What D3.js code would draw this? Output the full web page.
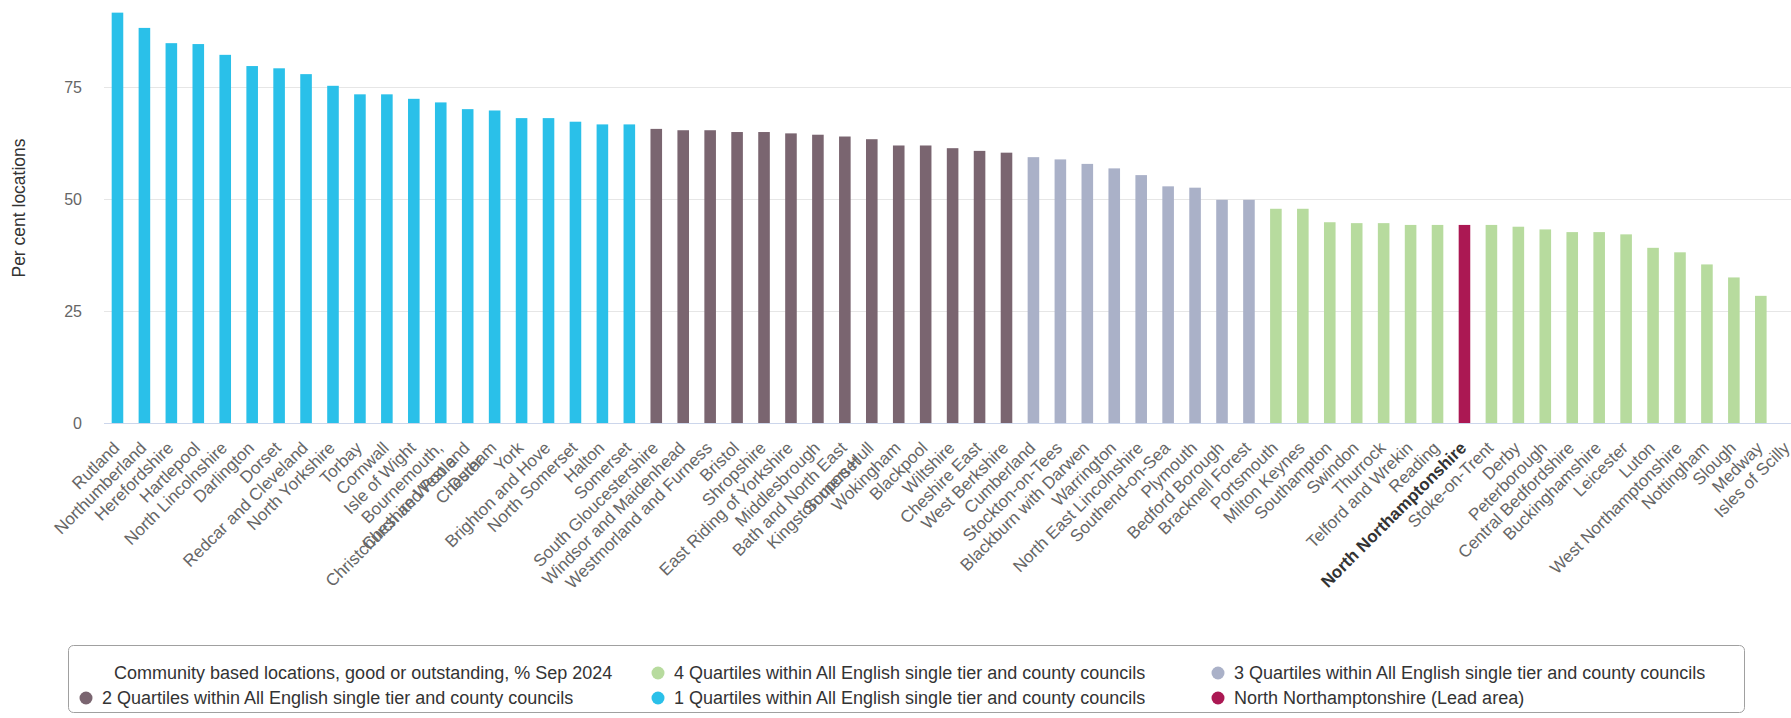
<!DOCTYPE html>
<html><head><meta charset="utf-8">
<script src="https://cdn.jsdelivr.net/npm/d3@7"></script>
<style>
html,body{margin:0;padding:0;background:#fff;overflow:hidden}
svg{display:block;font-family:"Liberation Sans",Arial,Helvetica,sans-serif}
</style></head><body>
<svg id="c" width="1791" height="718"></svg>
<script>
const categories = ["Rutland","Northumberland","Herefordshire","Hartlepool","North Lincolnshire","Darlington","Dorset","Redcar and Cleveland","North Yorkshire","Torbay","Cornwall","Isle of Wight","Bournemouth, Christchurch and Poole","Cheshire West and Chester","Durham","York","Brighton and Hove","North Somerset","Halton","Somerset","South Gloucestershire","Windsor and Maidenhead","Westmorland and Furness","Bristol","Shropshire","East Riding of Yorkshire","Middlesbrough","Bath and North East Somerset","Kingston upon Hull","Wokingham","Blackpool","Wiltshire","Cheshire East","West Berkshire","Cumberland","Stockton-on-Tees","Blackburn with Darwen","Warrington","North East Lincolnshire","Southend-on-Sea","Plymouth","Bedford Borough","Bracknell Forest","Portsmouth","Milton Keynes","Southampton","Swindon","Thurrock","Telford and Wrekin","Reading","North Northamptonshire","Stoke-on-Trent","Derby","Peterborough","Central Bedfordshire","Buckinghamshire","Leicester","Luton","West Northamptonshire","Nottingham","Slough","Medway","Isles of Scilly"];
// Labels as wrapped in the reference
const labelLines = {"Bournemouth, Christchurch and Poole":["Bournemouth,","Christchurch and Poole"],"Cheshire West and Chester":["Cheshire West and","Chester"],"Bath and North East Somerset":["Bath and North East","Somerset"]};
const values = [91.5,88.1,84.7,84.5,82.1,79.6,79.1,77.8,75.2,73.3,73.3,72.3,71.5,70.0,69.7,68.0,68.0,67.2,66.6,66.6,65.6,65.3,65.3,64.9,64.9,64.6,64.3,63.9,63.3,61.9,61.9,61.3,60.7,60.3,59.3,58.8,57.8,56.8,55.3,52.8,52.5,49.8,49.8,47.8,47.8,44.8,44.6,44.6,44.2,44.2,44.2,44.2,43.8,43.2,42.6,42.6,42.1,39.1,38.1,35.4,32.5,28.4,null];
// group: 1..4 quartile, "lead" for lead area
const groups = [1,1,1,1,1,1,1,1,1,1,1,1,1,1,1,1,1,1,1,1,2,2,2,2,2,2,2,2,2,2,2,2,2,2,3,3,3,3,3,3,3,3,3,4,4,4,4,4,4,4,"lead",4,4,4,4,4,4,4,4,4,4,4,4];
const gridTicks = [25,50,75,100];
const tickLabels = [0,25,50,75];
const leadArea = "North Northamptonshire";
const yTitle = "Per cent locations";
const legendItems = [
  {label:"Community based locations, good or outstanding, % Sep 2024", key:null},
  {label:"4 Quartiles within All English single tier and county councils", key:4},
  {label:"3 Quartiles within All English single tier and county councils", key:3},
  {label:"2 Quartiles within All English single tier and county councils", key:2},
  {label:"1 Quartiles within All English single tier and county councils", key:1},
  {label:"North Northamptonshire (Lead area)", key:"lead"}
];
const colors = {1:"#2AC0E9",2:"#7A6570",3:"#AAB1C8",4:"#B7DB9E",lead:"#AB1853"};

const svg = d3.select("#c");
const plotLeft = 104, step = 26.94;
const x = d3.scaleBand().domain(categories).range([plotLeft, plotLeft + step*categories.length]).paddingInner(0.57).paddingOuter(0.285);
const y = d3.scaleLinear().domain([0,100]).range([423.3, -25.5]);

// gridlines
svg.append("g").selectAll("line").data(gridTicks).join("line")
  .attr("x1", plotLeft).attr("x2", 1791).attr("y1", d=>Math.round(y(d))+0.5).attr("y2", d=>Math.round(y(d))+0.5)
  .attr("stroke","#e6e6e6").attr("stroke-width",1);

// y axis labels
const yAxis = d3.axisLeft(y).tickValues(tickLabels).tickSize(0).tickPadding(0);
const ya = svg.append("g").attr("transform","translate(82,0)").call(yAxis);
ya.select(".domain").remove();
ya.selectAll("text").attr("font-size",16).attr("fill","#666").attr("font-family","Liberation Sans, Arial, sans-serif").attr("dy","0.34em");

// y title
svg.append("text").attr("transform","translate(25,208) rotate(-90)").attr("text-anchor","middle")
  .attr("font-size",17.5).attr("fill","#333").text(yTitle);

// bars
const data = categories.map((c,i)=>({c, v:values[i], g:groups[i]}));
svg.append("g").selectAll("rect").data(data.filter(d=>d.v!=null)).join("rect")
  .attr("x", d=>x(d.c)).attr("width", x.bandwidth())
  .attr("y", d=>y(d.v)).attr("height", d=>y(0)-y(d.v))
  .attr("fill", d=>colors[d.g]);

// x axis line
svg.append("line").attr("x1",plotLeft).attr("x2",1791).attr("y1",423.5).attr("y2",423.5).attr("stroke","#ccd6eb").attr("stroke-width",1);

// x labels
const xl = svg.append("g");
data.forEach(d=>{
  const cx = x(d.c) + x.bandwidth()/2 + 3;
  const t = xl.append("text").attr("transform",`translate(${cx},449) rotate(-45)`)
    .attr("text-anchor","end").attr("font-size",17)
    .attr("fill", d.c===leadArea ? "#333" : "#666")
    .attr("font-weight", d.c===leadArea ? "bold" : "normal");
  const lines = labelLines[d.c] || [d.c];
  lines.forEach((ln,k)=>{ t.append("tspan").attr("x",0).attr("dy", k===0?0:"1.15em").text(ln); });
});

// legend
svg.append("rect").attr("x",68.5).attr("y",645.5).attr("width",1676).attr("height",67).attr("rx",5)
  .attr("fill","none").attr("stroke","#a0a0a0").attr("stroke-width",1);
const pos = [[114,673],[674,673],[1234,673],[102,698],[674,698],[1234,698]];
legendItems.forEach((it,i)=>{
  const [tx,ty] = pos[i];
  if (it.key!=null) svg.append("circle").attr("cx",tx-16).attr("cy",ty).attr("r",6.5).attr("fill",colors[it.key]);
  svg.append("text").attr("x",tx).attr("y",ty).attr("dy","0.35em").attr("font-size",18).attr("fill","#333").text(it.label);
});
</script>
</body></html>
